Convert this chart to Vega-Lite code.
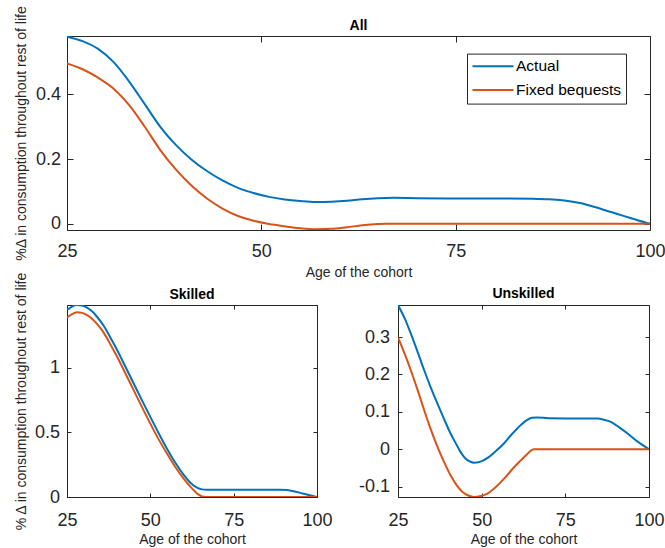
{
  "$schema": "https://vega.github.io/schema/vega-lite/v6.json",
  "padding": {"left": 13, "top": 4, "right": 0, "bottom": 0},
  "bounds": "flush",
  "spacing": 75,
  "resolve": {"scale": {"color": "independent"}, "legend": {"color": "independent"}},
  "config": {
    "font": "Liberation Sans",
    "view": {"stroke": "#262626", "strokeWidth": 1},
    "axis": {"grid": false, "domain": false, "tickColor": "#262626", "tickWidth": 1, "labelColor": "#262626", "titleColor": "#262626", "labelFontSize": 18, "titleFontSize": 14, "titleFontWeight": "normal", "labelFont": "Liberation Sans", "titleFont": "Liberation Sans", "labelFlush": false, "labelOverlap": false, "labelBound": false},
    "title": {"fontSize": 14, "fontWeight": "bold", "color": "#000000", "anchor": "middle", "offset": 4, "frame": "group", "font": "Liberation Sans"}
  },
  "datasets": {
    "all": [
      {"series": "Actual", "age": 25, "value": 0.579},
      {"series": "Actual", "age": 27, "value": 0.565},
      {"series": "Actual", "age": 29, "value": 0.541},
      {"series": "Actual", "age": 31, "value": 0.5},
      {"series": "Actual", "age": 33, "value": 0.44},
      {"series": "Actual", "age": 35, "value": 0.37},
      {"series": "Actual", "age": 37, "value": 0.3},
      {"series": "Actual", "age": 39, "value": 0.244},
      {"series": "Actual", "age": 41, "value": 0.199},
      {"series": "Actual", "age": 43, "value": 0.163},
      {"series": "Actual", "age": 45, "value": 0.134},
      {"series": "Actual", "age": 47, "value": 0.111},
      {"series": "Actual", "age": 49, "value": 0.095},
      {"series": "Actual", "age": 51, "value": 0.083},
      {"series": "Actual", "age": 53, "value": 0.075},
      {"series": "Actual", "age": 55, "value": 0.07},
      {"series": "Actual", "age": 57, "value": 0.067},
      {"series": "Actual", "age": 59, "value": 0.068},
      {"series": "Actual", "age": 61, "value": 0.071},
      {"series": "Actual", "age": 63, "value": 0.076},
      {"series": "Actual", "age": 65, "value": 0.079},
      {"series": "Actual", "age": 67, "value": 0.08},
      {"series": "Actual", "age": 70, "value": 0.079},
      {"series": "Actual", "age": 75, "value": 0.078},
      {"series": "Actual", "age": 80, "value": 0.078},
      {"series": "Actual", "age": 85, "value": 0.077},
      {"series": "Actual", "age": 87, "value": 0.076},
      {"series": "Actual", "age": 89, "value": 0.072},
      {"series": "Actual", "age": 91, "value": 0.064},
      {"series": "Actual", "age": 93, "value": 0.051},
      {"series": "Actual", "age": 95, "value": 0.036},
      {"series": "Actual", "age": 97, "value": 0.021},
      {"series": "Actual", "age": 98.5, "value": 0.01},
      {"series": "Actual", "age": 100, "value": 0},
      {"series": "Fixed bequests", "age": 25, "value": 0.496},
      {"series": "Fixed bequests", "age": 27, "value": 0.478},
      {"series": "Fixed bequests", "age": 29, "value": 0.452},
      {"series": "Fixed bequests", "age": 31, "value": 0.418},
      {"series": "Fixed bequests", "age": 33, "value": 0.367},
      {"series": "Fixed bequests", "age": 35, "value": 0.3},
      {"series": "Fixed bequests", "age": 37, "value": 0.228},
      {"series": "Fixed bequests", "age": 39, "value": 0.168},
      {"series": "Fixed bequests", "age": 41, "value": 0.118},
      {"series": "Fixed bequests", "age": 43, "value": 0.078},
      {"series": "Fixed bequests", "age": 45, "value": 0.047},
      {"series": "Fixed bequests", "age": 47, "value": 0.024},
      {"series": "Fixed bequests", "age": 49, "value": 0.009},
      {"series": "Fixed bequests", "age": 51, "value": -0.001},
      {"series": "Fixed bequests", "age": 53, "value": -0.008},
      {"series": "Fixed bequests", "age": 55, "value": -0.014},
      {"series": "Fixed bequests", "age": 57, "value": -0.017},
      {"series": "Fixed bequests", "age": 59, "value": -0.016},
      {"series": "Fixed bequests", "age": 61, "value": -0.011},
      {"series": "Fixed bequests", "age": 63, "value": -0.005},
      {"series": "Fixed bequests", "age": 65, "value": -0.001},
      {"series": "Fixed bequests", "age": 66, "value": 0},
      {"series": "Fixed bequests", "age": 75, "value": 0},
      {"series": "Fixed bequests", "age": 90, "value": 0},
      {"series": "Fixed bequests", "age": 100, "value": 0}
    ],
    "skilled": [
      {"series": "Actual", "age": 25, "value": 1.447},
      {"series": "Actual", "age": 26.5, "value": 1.474},
      {"series": "Actual", "age": 28, "value": 1.486},
      {"series": "Actual", "age": 29.5, "value": 1.482},
      {"series": "Actual", "age": 31, "value": 1.466},
      {"series": "Actual", "age": 32.5, "value": 1.437},
      {"series": "Actual", "age": 34, "value": 1.395},
      {"series": "Actual", "age": 36, "value": 1.325},
      {"series": "Actual", "age": 38, "value": 1.235},
      {"series": "Actual", "age": 40, "value": 1.14},
      {"series": "Actual", "age": 42.5, "value": 1.01},
      {"series": "Actual", "age": 45, "value": 0.878},
      {"series": "Actual", "age": 47.5, "value": 0.748},
      {"series": "Actual", "age": 50, "value": 0.62},
      {"series": "Actual", "age": 52.5, "value": 0.494},
      {"series": "Actual", "age": 55, "value": 0.374},
      {"series": "Actual", "age": 57.5, "value": 0.265},
      {"series": "Actual", "age": 60, "value": 0.172},
      {"series": "Actual", "age": 62, "value": 0.11},
      {"series": "Actual", "age": 64, "value": 0.072},
      {"series": "Actual", "age": 65.5, "value": 0.059},
      {"series": "Actual", "age": 67, "value": 0.056},
      {"series": "Actual", "age": 75, "value": 0.056},
      {"series": "Actual", "age": 85, "value": 0.057},
      {"series": "Actual", "age": 89, "value": 0.057},
      {"series": "Actual", "age": 91, "value": 0.054},
      {"series": "Actual", "age": 93, "value": 0.045},
      {"series": "Actual", "age": 95, "value": 0.032},
      {"series": "Actual", "age": 97.5, "value": 0.015},
      {"series": "Actual", "age": 100, "value": 0},
      {"series": "Fixed bequests", "age": 25, "value": 1.39},
      {"series": "Fixed bequests", "age": 26.5, "value": 1.416},
      {"series": "Fixed bequests", "age": 28, "value": 1.429},
      {"series": "Fixed bequests", "age": 29.5, "value": 1.425},
      {"series": "Fixed bequests", "age": 31, "value": 1.408},
      {"series": "Fixed bequests", "age": 32.5, "value": 1.38},
      {"series": "Fixed bequests", "age": 34, "value": 1.34},
      {"series": "Fixed bequests", "age": 36, "value": 1.272},
      {"series": "Fixed bequests", "age": 38, "value": 1.183},
      {"series": "Fixed bequests", "age": 40, "value": 1.087},
      {"series": "Fixed bequests", "age": 42.5, "value": 0.958},
      {"series": "Fixed bequests", "age": 45, "value": 0.827},
      {"series": "Fixed bequests", "age": 47.5, "value": 0.696},
      {"series": "Fixed bequests", "age": 50, "value": 0.568},
      {"series": "Fixed bequests", "age": 52.5, "value": 0.446},
      {"series": "Fixed bequests", "age": 55, "value": 0.336},
      {"series": "Fixed bequests", "age": 57.5, "value": 0.232},
      {"series": "Fixed bequests", "age": 60, "value": 0.142},
      {"series": "Fixed bequests", "age": 62, "value": 0.08},
      {"series": "Fixed bequests", "age": 63.5, "value": 0.04},
      {"series": "Fixed bequests", "age": 64.5, "value": 0.018},
      {"series": "Fixed bequests", "age": 65.5, "value": 0.004},
      {"series": "Fixed bequests", "age": 66.5, "value": 0},
      {"series": "Fixed bequests", "age": 75, "value": 0},
      {"series": "Fixed bequests", "age": 90, "value": 0},
      {"series": "Fixed bequests", "age": 100, "value": 0}
    ],
    "unskilled": [
      {"series": "Actual", "age": 25, "value": 0.386},
      {"series": "Actual", "age": 27, "value": 0.35},
      {"series": "Actual", "age": 28.8, "value": 0.31},
      {"series": "Actual", "age": 30.8, "value": 0.262},
      {"series": "Actual", "age": 32.8, "value": 0.212},
      {"series": "Actual", "age": 34.8, "value": 0.165},
      {"series": "Actual", "age": 36.8, "value": 0.122},
      {"series": "Actual", "age": 38.8, "value": 0.08},
      {"series": "Actual", "age": 40.7, "value": 0.042},
      {"series": "Actual", "age": 42.5, "value": 0.012},
      {"series": "Actual", "age": 44, "value": -0.012},
      {"series": "Actual", "age": 45.3, "value": -0.026},
      {"series": "Actual", "age": 46.5, "value": -0.033},
      {"series": "Actual", "age": 47.7, "value": -0.036},
      {"series": "Actual", "age": 49, "value": -0.035},
      {"series": "Actual", "age": 50.5, "value": -0.03},
      {"series": "Actual", "age": 52, "value": -0.022},
      {"series": "Actual", "age": 54, "value": -0.007},
      {"series": "Actual", "age": 56.7, "value": 0.016},
      {"series": "Actual", "age": 59, "value": 0.04},
      {"series": "Actual", "age": 61.7, "value": 0.065},
      {"series": "Actual", "age": 63.5, "value": 0.078},
      {"series": "Actual", "age": 65, "value": 0.084},
      {"series": "Actual", "age": 66.5, "value": 0.085},
      {"series": "Actual", "age": 70, "value": 0.083},
      {"series": "Actual", "age": 80, "value": 0.082},
      {"series": "Actual", "age": 84.6, "value": 0.082},
      {"series": "Actual", "age": 86.5, "value": 0.079},
      {"series": "Actual", "age": 88.6, "value": 0.073},
      {"series": "Actual", "age": 91, "value": 0.059},
      {"series": "Actual", "age": 93.6, "value": 0.042},
      {"series": "Actual", "age": 96.5, "value": 0.021},
      {"series": "Actual", "age": 100, "value": 0},
      {"series": "Fixed bequests", "age": 25, "value": 0.299},
      {"series": "Fixed bequests", "age": 27, "value": 0.255},
      {"series": "Fixed bequests", "age": 28.8, "value": 0.212},
      {"series": "Fixed bequests", "age": 30.8, "value": 0.16},
      {"series": "Fixed bequests", "age": 32.8, "value": 0.105},
      {"series": "Fixed bequests", "age": 34.8, "value": 0.053},
      {"series": "Fixed bequests", "age": 36.8, "value": 0.006},
      {"series": "Fixed bequests", "age": 38.8, "value": -0.035},
      {"series": "Fixed bequests", "age": 40.7, "value": -0.07},
      {"series": "Fixed bequests", "age": 42.5, "value": -0.096},
      {"series": "Fixed bequests", "age": 44.2, "value": -0.114},
      {"series": "Fixed bequests", "age": 46, "value": -0.124},
      {"series": "Fixed bequests", "age": 47.7, "value": -0.128},
      {"series": "Fixed bequests", "age": 49.5, "value": -0.126},
      {"series": "Fixed bequests", "age": 51.7, "value": -0.119},
      {"series": "Fixed bequests", "age": 54, "value": -0.103},
      {"series": "Fixed bequests", "age": 56.7, "value": -0.079},
      {"series": "Fixed bequests", "age": 59, "value": -0.055},
      {"series": "Fixed bequests", "age": 61.7, "value": -0.03},
      {"series": "Fixed bequests", "age": 63.5, "value": -0.014},
      {"series": "Fixed bequests", "age": 65.6, "value": 0},
      {"series": "Fixed bequests", "age": 75, "value": 0},
      {"series": "Fixed bequests", "age": 90, "value": 0},
      {"series": "Fixed bequests", "age": 100, "value": 0}
    ]
  },
  "vconcat": [
    {
      "width": 583,
      "height": 194,
      "title": {"text": "All", "frame": "group", "anchor": "middle", "offset": 4, "dy": 32},
      "data": {"name": "all"},
      "layer": [
        {
          "mark": {"type": "line", "interpolate": "monotone", "clip": true, "strokeWidth": 2},
          "encoding": {
            "x": {"field": "age", "type": "quantitative", "scale": {"domain": [25, 100], "nice": false, "zero": false},
                  "axis": {"values": [25, 50, 75, 100], "title": "Age of the cohort", "tickSize": -6, "labelPadding": 32, "labelBaseline": "alphabetic", "titleX": 291.5, "titleY": 46.5, "titleBaseline": "alphabetic"}},
            "y": {"field": "value", "type": "quantitative", "scale": {"domain": [-0.0195, 0.581], "nice": false, "zero": false},
                  "axis": {"values": [0, 0.2, 0.4], "format": "~g", "title": "%Δ in consumption throughout rest of life", "tickSize": -6, "labelPadding": 12.5, "titleX": -42, "titleY": 97, "titleBaseline": "alphabetic"}},
            "color": {"field": "series", "type": "nominal", "scale": {"domain": ["Actual", "Fixed bequests"], "range": ["#0072BD", "#D95319"]},
                      "legend": {"orient": "none", "legendX": 400, "legendY": 17.6, "title": null, "symbolType": "M-3,0H3", "symbolSize": 187, "symbolStrokeWidth": 2, "labelFontSize": 15.5, "labelColor": "#000000", "labelFont": "Liberation Sans", "padding": 4.7, "rowPadding": 6.8, "symbolOffset": 13.3, "labelOffset": 15, "strokeColor": "#262626", "fillColor": "white"}}
          }
        },
        {
          "mark": {"type": "point", "opacity": 0},
          "encoding": {
            "x": {"field": "age", "type": "quantitative", "scale": {"domain": [25, 100], "nice": false, "zero": false},
                  "axis": {"orient": "top", "values": [25, 50, 75, 100], "labels": false, "title": null, "tickSize": -6}},
            "y": {"field": "value", "type": "quantitative", "scale": {"domain": [-0.0195, 0.581], "nice": false, "zero": false},
                  "axis": {"orient": "right", "values": [0, 0.2, 0.4], "labels": false, "title": null, "tickSize": -6}}
          }
        }
      ],
      "resolve": {"axis": {"x": "independent", "y": "independent"}}
    },
    {
      "hconcat": [
        {
          "width": 250,
          "height": 192,
          "title": {"text": "Skilled", "frame": "group", "anchor": "middle", "offset": 4, "dy": 35},
          "data": {"name": "skilled"},
          "layer": [
            {
              "mark": {"type": "line", "interpolate": "monotone", "clip": true, "strokeWidth": 2},
              "encoding": {
                "x": {"field": "age", "type": "quantitative", "scale": {"domain": [25, 100], "nice": false, "zero": false},
                      "axis": {"values": [25, 50, 75, 100], "title": "Age of the cohort", "tickSize": -4, "labelPadding": 32, "labelBaseline": "alphabetic", "titleX": 125, "titleY": 46.5, "titleBaseline": "alphabetic"}},
                "y": {"field": "value", "type": "quantitative", "scale": {"domain": [0, 1.486], "nice": false, "zero": false},
                      "axis": {"values": [0, 0.5, 1], "format": "~g", "title": "% Δ in consumption throughout rest of life", "tickSize": -4, "labelPadding": 11.5, "titleX": -42, "titleY": 96, "titleBaseline": "alphabetic"}},
                "color": {"field": "series", "type": "nominal", "scale": {"domain": ["Actual", "Fixed bequests"], "range": ["#0072BD", "#D95319"]}, "legend": null}
              }
            },
            {
              "mark": {"type": "point", "opacity": 0},
              "encoding": {
                "x": {"field": "age", "type": "quantitative", "scale": {"domain": [25, 100], "nice": false, "zero": false},
                      "axis": {"orient": "top", "values": [25, 50, 75, 100], "labels": false, "title": null, "tickSize": -4}},
                "y": {"field": "value", "type": "quantitative", "scale": {"domain": [0, 1.486], "nice": false, "zero": false},
                      "axis": {"orient": "right", "values": [0, 0.5, 1], "labels": false, "title": null, "tickSize": -4}}
              }
            }
          ],
          "resolve": {"axis": {"x": "independent", "y": "independent"}}
        },
        {
          "width": 251,
          "height": 192,
          "title": {"text": "Unskilled", "frame": "group", "anchor": "middle", "offset": 1.5},
          "data": {"name": "unskilled"},
          "layer": [
            {
              "mark": {"type": "line", "interpolate": "monotone", "clip": true, "strokeWidth": 2},
              "encoding": {
                "x": {"field": "age", "type": "quantitative", "scale": {"domain": [25, 100], "nice": false, "zero": false},
                      "axis": {"values": [25, 50, 75, 100], "title": "Age of the cohort", "tickSize": -4, "labelPadding": 32, "labelBaseline": "alphabetic", "titleX": 125.5, "titleY": 46.5, "titleBaseline": "alphabetic"}},
                "y": {"field": "value", "type": "quantitative", "scale": {"domain": [-0.128, 0.386], "nice": false, "zero": false},
                      "axis": {"values": [-0.1, 0, 0.1, 0.2, 0.3], "labelExpr": "datum.value < 0 ? '-' + format(-datum.value, '~g') : format(datum.value, '~g')", "title": null, "tickSize": -4, "labelPadding": 12.5}},
                "color": {"field": "series", "type": "nominal", "scale": {"domain": ["Actual", "Fixed bequests"], "range": ["#0072BD", "#D95319"]}, "legend": null}
              }
            },
            {
              "mark": {"type": "point", "opacity": 0},
              "encoding": {
                "x": {"field": "age", "type": "quantitative", "scale": {"domain": [25, 100], "nice": false, "zero": false},
                      "axis": {"orient": "top", "values": [25, 50, 75, 100], "labels": false, "title": null, "tickSize": -4}},
                "y": {"field": "value", "type": "quantitative", "scale": {"domain": [-0.128, 0.386], "nice": false, "zero": false},
                      "axis": {"orient": "right", "values": [-0.1, 0, 0.1, 0.2, 0.3], "labels": false, "title": null, "tickSize": -4}}
              }
            }
          ],
          "resolve": {"axis": {"x": "independent", "y": "independent"}}
        }
      ],
      "spacing": 81,
      "bounds": "flush"
    }
  ]
}
